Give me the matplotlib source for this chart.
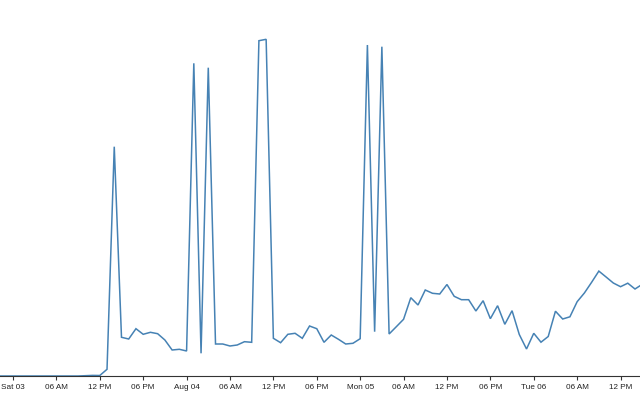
import matplotlib
matplotlib.use("Agg")
import matplotlib.pyplot as plt
import pandas as pd
import numpy as np

# hours offset from 2024-08-03 00:00
hours = list(range(-2, 88))
values = [0, 0, 0, 0, 0, 0, 0, 0, 0, 0, 0, 0, 0.3, 0.6,  # t=-2..11
          0.5, 6.7, 229.3, 38.7, 37, 47.3, 41.7, 43.7, 42.3, 36, 26, 26.7, 25,   # 12..24
          312.7, 22.7, 308.3, 32, 32, 30, 31, 34.3, 33.7, 335.3, 336.7, 37.7,   # 25..36
          33.3, 41.7, 42.7, 37.7, 50, 47.3, 33.7, 41, 36.7, 32, 32.7, 37.3,    # 37..48
          331, 44.3, 329.3, 42, 49.3, 56.7, 78.3, 71, 86, 82.7, 82, 91.5,       # 49..60
          79.7, 76.3, 76.3, 65, 75.3, 57.3, 70.3, 51.7, 65.3, 41.5, 27, 42.7,   # 61..72
          33.8, 39.5, 64.8, 57, 59.2, 74.3, 83, 93.7, 104.9, 99, 93, 89.3,     # 73..84
          92.8, 87, 91.7]                                                      # 85..87

tick_hours = [0, 6, 12, 18, 24, 30, 36, 42, 48, 54, 60, 66, 72, 78, 84]
tick_labels = ["Sat 03", "06 AM", "12 PM", "06 PM", "Aug 04", "06 AM", "12 PM",
               "06 PM", "Mon 05", "06 AM", "12 PM", "06 PM", "Tue 06", "06 AM", "12 PM"]

base = pd.Timestamp("2024-08-03 00:00")
times = [base + pd.Timedelta(hours=h) for h in hours]
tick_times = [base + pd.Timedelta(hours=h) for h in tick_hours]

plt.rcParams['font.family'] = ['Liberation Sans', 'DejaVu Sans']

fig = plt.figure(figsize=(6.4, 4.0), dpi=100)
ax = fig.add_axes([0, 24/400, 1, 376/400])
ax.plot(times, values, color="#4682b4", linewidth=1.1, solid_joinstyle="miter")

ax.set_xlim(base + pd.Timedelta(hours=-1.797), base + pd.Timedelta(hours=86.69))
ax.set_ylim(0, 376)
ax.set_xticks(tick_times)
ax.set_xticklabels(tick_labels)
ax.set_yticks([])
for s in ["left", "right", "top"]:
    ax.spines[s].set_visible(False)
ax.spines["bottom"].set_color("#333333")
ax.spines["bottom"].set_linewidth(0.8)
ax.tick_params(axis="x", length=3.2, width=0.8, color="#333333", pad=2.4,
               labelsize=5.9, labelcolor="#222222")

fig.savefig("out.png", dpi=100)
